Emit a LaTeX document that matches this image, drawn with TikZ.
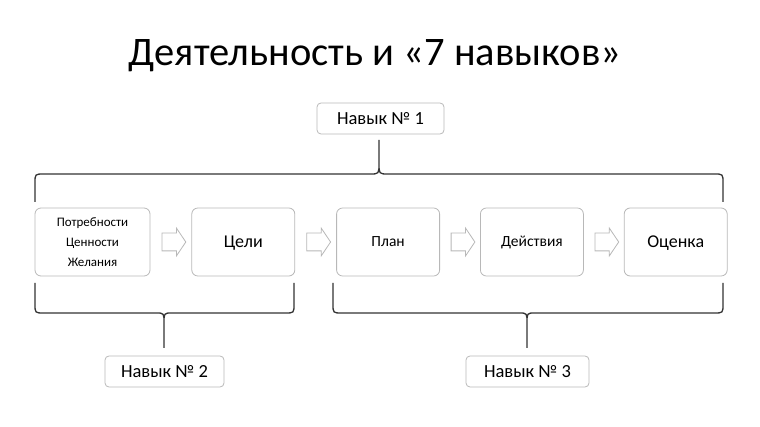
\documentclass[tikz,border=0pt]{standalone}
\usepackage{fontspec}
\setmainfont{Carlito}
\usetikzlibrary{positioning,calc,shapes.arrows}

\definecolor{boxgray}{HTML}{B8B8B8}
\definecolor{bracegray}{HTML}{333333}

\tikzset{
  stagebox/.style={draw=boxgray, rounded corners=6pt, line width=0.8pt,
    minimum width=103pt, minimum height=68pt, inner sep=0pt, align=center},
  % single line of text, caps centred; #1 = font size
  captext/.style={font=\fontsize{#1}{20}\selectfont,
    text height=0.644*#1 pt, text depth=0pt},
  skillbox/.style={draw=boxgray, rounded corners=4pt, line width=0.8pt,
    minimum width=119pt, minimum height=31pt, inner sep=0pt, captext=18.5},
  flowarrow/.style={single arrow, draw=boxgray, fill=white, line width=0.8pt,
    minimum height=23pt, inner sep=8.5pt, single arrow head extend=5pt,
    single arrow tip angle=112},
  brace/.style={draw=bracegray, line width=1.3pt}
}

\begin{document}
\begin{tikzpicture}[x=1pt,y=-1pt]
  \useasboundingbox (0,0) rectangle (760,427);

  \node (title) at (375,56) {\fontsize{40.5}{48}\selectfont Деятельность и «7 навыков»};

  % stages
  \node[stagebox, minimum width=115pt, font=\fontsize{13}{20}\selectfont]
    (needs) at (92.5,242) {Потребности\\Ценности\\Желания};
  \node[stagebox, captext=18, right=41pt of needs] (goals) {Цели};
  \node[stagebox, captext=15.5, right=41pt of goals] (plan) {План};
  \node[stagebox, captext=15.5, right=40pt of plan] (acts) {Действия};
  \node[stagebox, captext=18, right=40pt of acts] (eval) {Оценка};

  % arrows between stages
  \foreach \a/\b in {needs/goals, goals/plan, plan/acts, acts/eval}{
    \node[flowarrow] (arr-\a) at ($(\a.east)!0.5!(\b.west)$) {};
  }

  % skill labels
  \node[skillbox, minimum width=127pt] (skill1) at (380.5,118.5) {Навык № 1};
  \node[skillbox] (skill2) at (164.5,371.5) {Навык № 2};
  \node[skillbox, minimum width=123pt] (skill3) at (527.5,371.5) {Навык № 3};

  % brace over all stages
  \draw[brace] (35,202) -- (35,183) .. controls (35,174) .. (44,174) -- (370,174)
    .. controls (379,174) .. (379,163) -- (379,140) -- (379,163)
    .. controls (379,174) .. (388,174) -- (714,174) .. controls (723,174) .. (723,183) -- (723,202);

  % brace under needs and goals
  \draw[brace] (35,283) -- (35,304) .. controls (35,313) .. (44,313) -- (156,313)
    .. controls (164,313) .. (164,323) -- (164,348) -- (164,323)
    .. controls (164,313) .. (172,313) -- (285,313) .. controls (294,313) .. (294,304) -- (294,283);

  % brace under plan, actions, evaluation
  \draw[brace] (333,283) -- (333,304) .. controls (333,313) .. (342,313) -- (519,313)
    .. controls (527,313) .. (527,323) -- (527,348) -- (527,323)
    .. controls (527,313) .. (535,313) -- (714,313) .. controls (723,313) .. (723,304) -- (723,283);
\end{tikzpicture}
\end{document}
